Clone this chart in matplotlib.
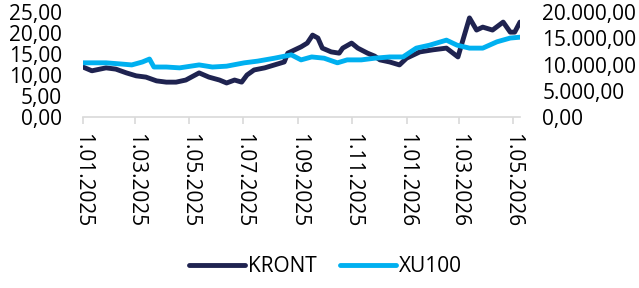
import matplotlib
matplotlib.use("Agg")
import matplotlib.pyplot as plt
import pandas as pd

kront_dates = ["2025-01-01","2025-01-11","2025-01-27","2025-02-07","2025-02-19","2025-03-02",
               "2025-03-13","2025-03-25","2025-04-05","2025-04-16","2025-04-27","2025-05-12",
               "2025-05-23","2025-06-04","2025-06-12","2025-06-21","2025-06-29","2025-07-05",
               "2025-07-13","2025-07-25","2025-08-05","2025-08-16","2025-08-20","2025-08-28",
               "2025-09-04","2025-09-11","2025-09-17","2025-09-23","2025-09-28","2025-10-08",
               "2025-10-17","2025-10-21","2025-10-31","2025-11-07","2025-11-18","2025-11-26",
               "2025-12-02","2025-12-13","2025-12-24","2026-01-01","2026-01-16","2026-01-31",
               "2026-02-15","2026-02-28","2026-03-05","2026-03-13","2026-03-21","2026-03-28",
               "2026-04-08","2026-04-20","2026-04-28","2026-05-03","2026-05-09"]
kront_values = [11.9, 11.0, 11.7, 11.4, 10.5, 9.8,
                9.5, 8.6, 8.3, 8.3, 8.8, 10.5,
                9.5, 8.8, 8.1, 8.8, 8.3, 10.0,
                11.2, 11.7, 12.4, 13.1, 15.2, 16.0,
                16.7, 17.6, 19.5, 18.8, 16.4, 15.5,
                15.2, 16.4, 17.6, 16.4, 15.2, 14.5,
                13.6, 13.1, 12.4, 14.0, 15.5, 16.0,
                16.4, 14.3, 17.9, 23.6, 20.7, 21.4,
                20.7, 22.6, 20.2, 20.2, 22.6]

xu_dates = ["2025-01-01","2025-01-27","2025-02-14","2025-02-25","2025-03-09","2025-03-17",
            "2025-03-22","2025-04-05","2025-04-20","2025-05-12","2025-05-27","2025-06-12",
            "2025-07-02","2025-07-17","2025-08-05","2025-08-24","2025-09-04","2025-09-16",
            "2025-09-30","2025-10-15","2025-10-26","2025-11-11","2025-11-26","2025-12-13",
            "2025-12-28","2026-01-12","2026-01-27","2026-02-15","2026-02-27","2026-03-13",
            "2026-03-28","2026-04-13","2026-04-28","2026-05-09"]
xu_values = [10320, 10320, 10080, 9920, 10480, 11040,
             9520, 9520, 9360, 9920, 9520, 9680,
             10320, 10640, 11200, 11840, 10880, 11440,
             11200, 10320, 10880, 10880, 11200, 11440,
             11440, 13120, 13680, 14640, 13680, 13120,
             13120, 14320, 15040, 15200]

tick_dates = ["2025-01-01","2025-03-01","2025-05-01","2025-07-01","2025-09-01",
              "2025-11-01","2026-01-01","2026-03-01","2026-05-01"]
tick_labels = ["1.01.2025","1.03.2025","1.05.2025","1.07.2025","1.09.2025",
               "1.11.2025","1.01.2026","1.03.2026","1.05.2026"]

left_ticks = [0, 5, 10, 15, 20, 25]
left_labels = ["0,00", "5,00", "10,00", "15,00", "20,00", "25,00"]
right_ticks = [0, 5000, 10000, 15000, 20000]
right_labels = ["0,00", "5.000,00", "10.000,00", "15.000,00", "20.000,00"]

plt.rcParams['font.family'] = ['Open Sans', 'DejaVu Sans']

DARK = "#1f2350"
LIGHT = "#00b0f0"
FS = 15

fig = plt.figure(figsize=(6.39, 2.88), dpi=100)
ax = fig.add_axes([83/639, 1 - 117/288, (520 - 83)/639, (117 - 12)/288])
ax2 = ax.twinx()

kd = pd.to_datetime(kront_dates)
xd = pd.to_datetime(xu_dates)
l1, = ax.plot(kd, kront_values, color=DARK, lw=3.5, solid_capstyle='round', label="KRONT")
l2, = ax2.plot(xd, xu_values, color=LIGHT, lw=3.5, solid_capstyle='round', label="XU100")

ax.set_ylim(0, 25)
ax2.set_ylim(0, 20000)
ax.set_xlim(pd.Timestamp("2025-01-01"), pd.Timestamp("2026-05-09"))

ax.set_yticks(left_ticks)
ax.set_yticklabels(left_labels)
ax2.set_yticks(right_ticks)
ax2.set_yticklabels(right_labels)

ax.set_xticks(pd.to_datetime(tick_dates))
ax.set_xticklabels(tick_labels, rotation=-90, va='top', ha='center')

for a in (ax, ax2):
    for s in ("top", "left", "right", "bottom"):
        a.spines[s].set_visible(False)
ax.spines["bottom"].set_visible(True)
ax.spines["bottom"].set_color("#d9d9d9")
ax.spines["bottom"].set_linewidth(1.2)

ax.tick_params(axis='x', length=5, color="#d9d9d9", width=1.2, labelsize=FS, pad=6.5, labelcolor="#000000")
ax.tick_params(axis='y', length=0, labelsize=FS, pad=15)
ax2.tick_params(axis='y', length=0, labelsize=FS, pad=16)

fig.legend(handles=[l1, l2], loc='center', bbox_to_anchor=(0.509, 0.073), ncol=2,
           frameon=False, fontsize=FS, handlelength=2.7, handletextpad=0.15,
           columnspacing=1.1, borderpad=0, borderaxespad=0)

fig.savefig("out.png", dpi=100)
